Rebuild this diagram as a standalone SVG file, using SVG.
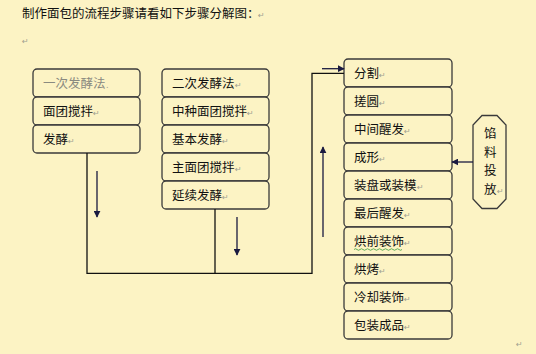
<svg xmlns="http://www.w3.org/2000/svg" width="536" height="354" viewBox="0 0 536 354">
<defs>
<style>
.bg{fill:#fcf3c4}
.box{fill:#fcf3c4;stroke:#3a3a3a;stroke-width:1.3}
.t{font-family:"Noto Sans CJK SC","Noto Sans",sans-serif;font-size:12.5px;fill:#111}
.faint{fill:#8a8a80}
.rm{font-family:"DejaVu Sans",sans-serif;font-size:8px;fill:#a0a090}
.ln{fill:none;stroke:#111;stroke-width:1.3}
.ar{fill:none;stroke:#1a1a40;stroke-width:1.3}
</style>
<marker id="ah" viewBox="0 0 10 10" refX="9" refY="5" markerWidth="7" markerHeight="7" markerUnits="userSpaceOnUse" orient="auto">
<path d="M0,0 L10,5 L0,10 Z" fill="#1a1a40"/>
</marker>
</defs>
<rect class="bg" x="0" y="0" width="536" height="354"/>
<g id="title">
<text class="t" x="22" y="18">制作面包的流程步骤请看如下步骤分解图：</text>
<text class="rm" x="258" y="18">↵</text>
<text class="rm" x="22" y="44">↵</text>
<text class="rm" x="516" y="347">↵</text>
</g>
<g id="left-column">
<g id="n-yici"><rect class="box" x="33" y="69" width="107" height="28" rx="4"/><text class="t faint" x="43" y="88">一次发酵法</text><text class="rm" x="106" y="88">.</text></g>
<g id="n-miantuan"><rect class="box" x="33" y="97" width="107" height="28" rx="4"/><text class="t" x="43" y="116">面团搅拌</text><text class="rm" x="93" y="116">↵</text></g>
<g id="n-fajiao"><rect class="box" x="33" y="125" width="107" height="28" rx="4"/><text class="t" x="43" y="144">发酵</text><text class="rm" x="68" y="144">↵</text></g>
</g>
<g id="middle-column">
<g id="n-erci"><rect class="box" x="162" y="69" width="107" height="28" rx="4"/><text class="t" x="172" y="88">二次发酵法</text><text class="rm" x="235" y="88">↵</text></g>
<g id="n-zhongzhong"><rect class="box" x="162" y="97" width="107" height="28" rx="4"/><text class="t" x="172" y="116">中种面团搅拌</text><text class="rm" x="247" y="116">↵</text></g>
<g id="n-jiben"><rect class="box" x="162" y="125" width="107" height="28" rx="4"/><text class="t" x="172" y="144">基本发酵</text><text class="rm" x="222" y="144">↵</text></g>
<g id="n-zhumiantuan"><rect class="box" x="162" y="153" width="107" height="28" rx="4"/><text class="t" x="172" y="172">主面团搅拌</text><text class="rm" x="235" y="172">↵</text></g>
<g id="n-yanxu"><rect class="box" x="162" y="181" width="107" height="28" rx="4"/><text class="t" x="172" y="200">延续发酵</text><text class="rm" x="222" y="200">↵</text></g>
</g>
<g id="right-column">
<g id="n-fenge"><rect class="box" x="344" y="59" width="108" height="28" rx="4"/><text class="t" x="354" y="78">分割</text><text class="rm" x="379" y="78">↵</text></g>
<g id="n-cuoyuan"><rect class="box" x="344" y="87" width="108" height="28" rx="4"/><text class="t" x="354" y="106">搓圆</text><text class="rm" x="379" y="106">↵</text></g>
<g id="n-zhongjian"><rect class="box" x="344" y="115" width="108" height="28" rx="4"/><text class="t" x="354" y="134">中间醒发</text><text class="rm" x="404" y="134">↵</text></g>
<g id="n-chengxing"><rect class="box" x="344" y="143" width="108" height="28" rx="4"/><text class="t" x="354" y="162">成形</text><text class="rm" x="379" y="162">↵</text></g>
<g id="n-zhuangpan"><rect class="box" x="344" y="171" width="108" height="28" rx="4"/><text class="t" x="354" y="190">装盘或装模</text><text class="rm" x="417" y="190">↵</text></g>
<g id="n-zuihou"><rect class="box" x="344" y="199" width="108" height="28" rx="4"/><text class="t" x="354" y="218">最后醒发</text><text class="rm" x="404" y="218">↵</text></g>
<g id="n-hongqian"><rect class="box" x="344" y="227" width="108" height="28" rx="4"/><text class="t" x="354" y="246">烘前装饰</text><text class="rm" x="404" y="246">↵</text><path d="M354,249.5 q1.5,-1.5 3,0 t3,0 t3,0 t3,0 t3,0 t3,0 t3,0 t3,0 t3,0 t3,0 t3,0 t3,0 t3,0 t3,0 t3,0 t3,0" fill="none" stroke="#3c9a3c" stroke-width="0.8"/></g>
<g id="n-hongkao"><rect class="box" x="344" y="255" width="108" height="28" rx="4"/><text class="t" x="354" y="274">烘烤</text><text class="rm" x="379" y="274">↵</text></g>
<g id="n-lengque"><rect class="box" x="344" y="283" width="108" height="28" rx="4"/><text class="t" x="354" y="302">冷却装饰</text><text class="rm" x="404" y="302">↵</text></g>
<g id="n-baozhuang"><rect class="box" x="344" y="311" width="108" height="28" rx="4"/><text class="t" x="354" y="330">包装成品</text><text class="rm" x="404" y="330">↵</text></g>
</g>
<g id="n-xianliao">
<path class="box" d="M482,115.5 L497,115.5 L506,125 L506,199 L497,208.5 L482,208.5 L473,199 L473,125 Z"/>
<text class="t" x="484" y="138">馅</text>
<text class="t" x="484" y="157">料</text>
<text class="t" x="484" y="175">投</text>
<text class="t" x="484" y="194">放</text>
<text class="rm" x="497" y="194">↵</text>
</g>
<g id="connectors">
<path class="ln" d="M87,153 V273.3 H312 V73.3 H344"/>
<path class="ln" d="M215,209 V273.3"/>
<line class="ar" x1="97" y1="171" x2="97" y2="217" marker-end="url(#ah)"/>
<line class="ar" x1="237" y1="217" x2="237" y2="255" marker-end="url(#ah)"/>
<line class="ar" x1="323" y1="237" x2="323" y2="147" marker-end="url(#ah)"/>
<line class="ar" x1="322" y1="68.7" x2="344" y2="68.7" marker-end="url(#ah)"/>
<line class="ar" x1="473" y1="162" x2="452" y2="162" marker-end="url(#ah)"/>
</g>
</svg>
